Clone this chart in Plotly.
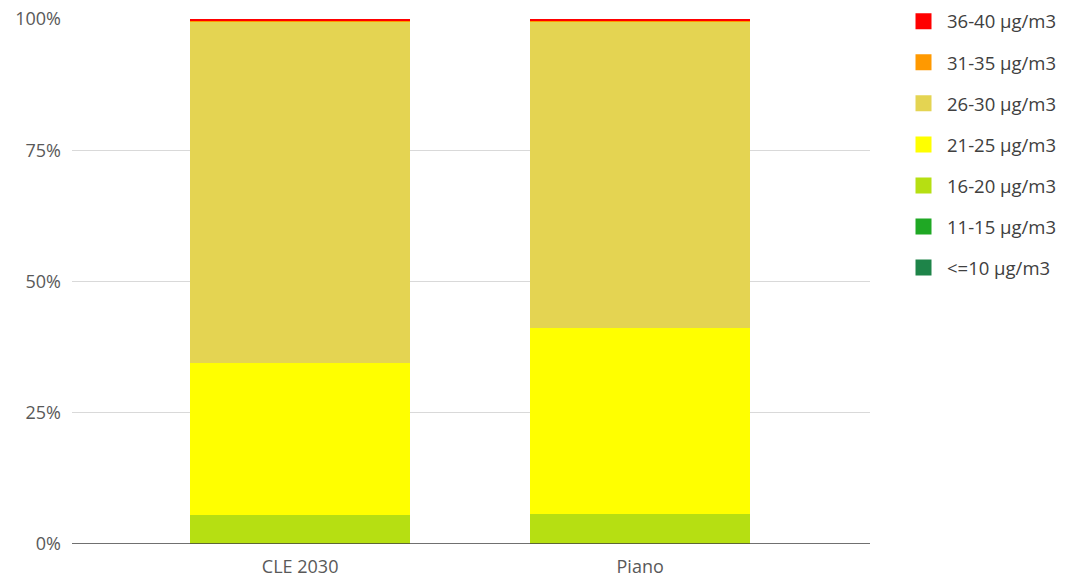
import plotly.graph_objects as go

categories = ["CLE 2030", "Piano"]
series_names = ["<=10 µg/m3", "11-15 µg/m3", "16-20 µg/m3", "21-25 µg/m3",
                "26-30 µg/m3", "31-35 µg/m3", "36-40 µg/m3"]
le10 = [0.0, 0.0]
r11_15 = [0.0, 0.0]
r16_20 = [5.6, 5.8]
r21_25 = [28.9, 35.3]
r26_30 = [65.0, 58.4]
r31_35 = [0.2, 0.2]
r36_40 = [0.3, 0.3]
series_values = [le10, r11_15, r16_20, r21_25, r26_30, r31_35, r36_40]
colors = ["#1E8449", "#1FA824", "#B6DF12", "#FFFF00", "#E4D452", "#FF9900", "#FF0000"]
tick_vals = [0, 25, 50, 75, 100]
tick_text = ["0%", "25%", "50%", "75%", "100%"]

fig = go.Figure()
for name, vals, col in zip(series_names, series_values, colors):
    fig.add_trace(go.Bar(x=categories, y=vals, name=name, marker_color=col,
                         marker_line_width=0, width=0.647, showlegend=False,
                         hoverinfo="y+name"))
# legend entries, top to bottom: highest class first
for i, (name, col) in enumerate(zip(series_names[::-1], colors[::-1])):
    fig.add_trace(go.Scatter(x=[None], y=[None], mode="markers", name=name,
                             marker=dict(symbol="square", size=22, color=col),
                             legendgroup=f"g{i}", showlegend=True))

fig.update_layout(
    barmode="stack",
    width=1071, height=580,
    margin=dict(l=64, r=209, t=11, b=44, autoexpand=False),
    paper_bgcolor="white", plot_bgcolor="white",
    font=dict(family="Open Sans", size=18, color="#595959"),
    legend=dict(x=1.0376, y=1.031, xanchor="left", yanchor="top",
                traceorder="grouped", tracegroupgap=14, maxheight=570,
                font=dict(size=18.5, color="#404040"), itemwidth=37),
    xaxis=dict(range=[-0.671, 1.676], showgrid=False, showline=False,
               ticks="", ticklabelstandoff=10,
               tickfont=dict(size=18, color="#595959"), zeroline=False),
    yaxis=dict(range=[0, 100], tickvals=tick_vals, ticktext=tick_text,
               showgrid=True, gridcolor="#D9D9D9", gridwidth=1,
               zeroline=False, showline=False, ticks="", ticklen=0,
               ticklabelstandoff=10, ticklabeloverflow="allow",
               tickfont=dict(size=18, color="#595959")),
    shapes=[dict(type="line", xref="paper", yref="y", x0=0, x1=1, y0=0, y1=0,
                 line=dict(color="#404040", width=1.5))],
)
fig.write_html("out.html")
